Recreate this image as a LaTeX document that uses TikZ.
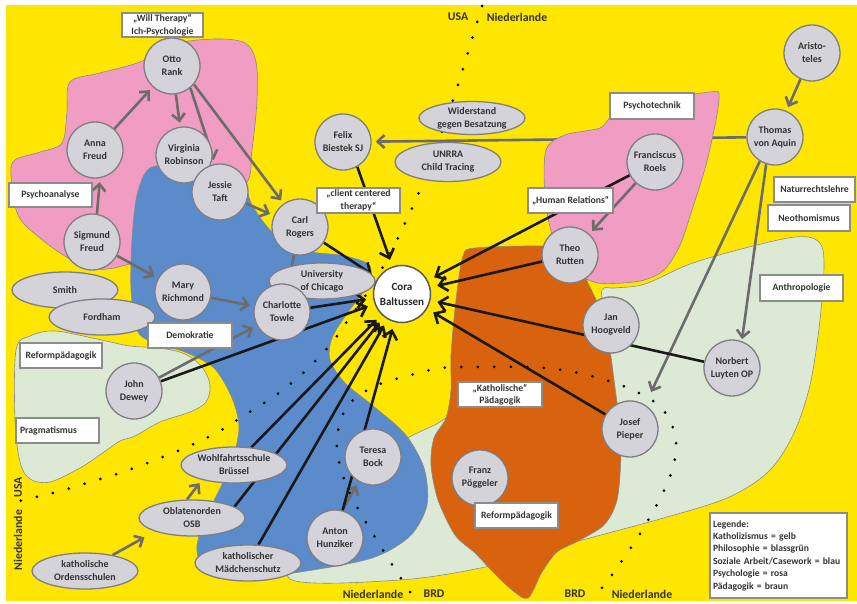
\documentclass[tikz,border=0pt]{standalone}
\usepackage{fontspec}
\setmainfont{Carlito}
\usetikzlibrary{shapes.geometric,arrows.meta}
\definecolor{bgyellow}{HTML}{FFE600}
\definecolor{rosa}{HTML}{F19CC3}
\definecolor{blau}{HTML}{5B8BCB}
\definecolor{gruen}{HTML}{DCE9D5}
\definecolor{braun}{HTML}{D8620E}
\definecolor{nodegray}{HTML}{D3D3D9}
\definecolor{rimgray}{HTML}{7E7E84}
\definecolor{boxrim}{HTML}{8C8C8C}
\definecolor{txt}{HTML}{333333}
\definecolor{arrowgray}{HTML}{6C6C6C}
\definecolor{edgegray}{HTML}{8A8A8A}
\pgfdeclarelayer{base}
\pgfdeclarelayer{regions}
\pgfdeclarelayer{links}
\pgfsetlayers{base,regions,links,main}
\tikzset{
  person/.style={circle, fill=nodegray, draw=rimgray, line width=1.3pt,
    minimum size=56pt, inner sep=0pt, align=center, text=txt,
    font=\bfseries\fontsize{10}{13}\selectfont},
  topic/.style={ellipse, fill=nodegray, draw=rimgray, line width=1.3pt,
    minimum width=106pt, minimum height=36pt, inner sep=0pt, align=center,
    text=txt, font=\bfseries\fontsize{10}{13}\selectfont},
  tag/.style={rectangle, fill=white, draw=boxrim, line width=1.2pt,
    minimum height=25pt, inner sep=1pt, align=center, text=txt,
    font=\bfseries\fontsize{9.7}{12}\selectfont},
  border label/.style={text=txt, inner sep=0pt,
    font=\bfseries\fontsize{11.8}{13}\selectfont},
  area/.style={draw=edgegray, line width=0.6pt},
  dotline/.style={draw=black, line width=3pt, line cap=round,
    dash pattern=on 0pt off 16.5pt},
  garrow/.style={draw=arrowgray, line width=2.6pt,
    -{Straight Barb[length=7pt,width=13pt]}, shorten >=4pt},
  barrow/.style={draw=black!90, line width=2.6pt,
    -{Straight Barb[length=8pt,width=15pt]}, shorten >=7pt}
}
\begin{document}
\begin{tikzpicture}[x=1pt,y=-1pt]
\useasboundingbox (0,0) rectangle (857,604);

% ---------- persons ----------
\node[person] (otto)     at (172,66)  {Otto\\Rank};
\node[person] (anna)     at (95,150)  {Anna\\Freud};
\node[person] (robinson) at (184,155) {Virginia\\Robinson};
\node[person] (taft)     at (220,192) {Jessie\\Taft};
\node[person] (rogers)   at (300,227) {Carl\\Rogers};
\node[person] (sigmund)  at (92,242)  {Sigmund\\Freud};
\node[person] (richmond) at (183,292) {Mary\\Richmond};
\node[topic]  (chicago)  at (322,281) {University\\of Chicago};
\node[person] (towle)    at (282,312) {Charlotte\\Towle};
\node[topic]  (smith)    at (65,290)  {Smith};
\node[topic]  (fordham)  at (102,317) {Fordham};
\node[person] (dewey)    at (134,391) {John\\Dewey};
\node[person] (felix)    at (343,142) {Felix\\Biestek SJ};
\node[topic, minimum height=33pt] (widerstand) at (472,118) {Widerstand\\gegen Besatzung};
\node[topic, minimum height=39pt] (unrra) at (448,162) {UNRRA\\Child Tracing};
\node[person] (roels)    at (655,162) {Franciscus\\Roels};
\node[person] (aquin)    at (775,137) {Thomas\\von Aquin};
\node[person] (aristo)   at (812,53)  {Aristo-\\teles};
\node[person] (rutten)   at (570,255) {Theo\\Rutten};
\node[person] (hoogveld) at (611,325) {Jan\\Hoogveld};
\node[person] (luyten)   at (732,368) {Norbert\\Luyten OP};
\node[person] (pieper)   at (630,429) {Josef\\Pieper};
\node[person] (poeggeler) at (480,478) {Franz\\Pöggeler};
\node[person] (bock)     at (373,457) {Teresa\\Bock};
\node[person] (hunziker) at (335,538) {Anton\\Hunziker};
\node[topic] (wohl)      at (234,465) {Wohlfahrtsschule\\Brüssel};
\node[topic] (oblaten)   at (192,518) {Oblatenorden\\OSB};
\node[topic] (orden)     at (85,571)  {katholische\\Ordensschulen};
\node[topic] (maed)      at (248,563) {katholischer\\Mädchenschutz};
\node[circle, fill=white, draw=black!65, line width=1.5pt, minimum size=57pt,
  inner sep=0pt, align=center, text=black!85,
  font=\bfseries\fontsize{11}{15}\selectfont] (cora) at (402,294) {Cora\\Baltussen};

% ---------- labels in boxes ----------
\node[tag, minimum width=81pt, minimum height=24pt, font=\bfseries\fontsize{9.7}{12.5}\selectfont]
  (will) at (162.5,25) {„Will Therapy“\\Ich-Psychologie};
\node[tag, minimum width=83pt, minimum height=24pt] (psychoanalyse) at (50.5,195) {Psychoanalyse};
\node[tag, minimum width=83pt, font=\bfseries\fontsize{9.7}{12.5}\selectfont]
  (cct) at (358.5,200.5) {„client centered\\therapy“};
\node[tag, minimum width=84pt, minimum height=26pt] (psychotechnik) at (652,106) {Psychotechnik};
\node[tag, minimum width=85pt] (human) at (570.5,200.5) {„Human Relations“};
\node[tag, minimum width=81pt] (naturrecht) at (814.5,189.5) {Naturrechtslehre};
\node[tag, minimum width=82pt, minimum height=26pt] (neothom) at (809,218) {Neothomismus};
\node[tag, minimum width=83pt, minimum height=26pt] (anthro) at (801.5,288) {Anthropologie};
\node[tag, minimum width=84pt] (demokratie) at (190,335.5) {Demokratie};
\node[tag, minimum width=82pt] (reformL) at (61,355.5) {Reformpädagogik};
\node[tag, minimum width=83pt, text width=75pt, align=left, inner xsep=4pt]
  (pragmatismus) at (57.5,430.5) {Pragmatismus};
\node[tag, minimum width=84pt, font=\bfseries\fontsize{9.7}{11.5}\selectfont]
  (kathpaed) at (500,394.5) {„Katholische“\\Pädagogik};
\node[tag, minimum width=83pt] (reformR) at (516.5,515.5) {Reformpädagogik};
\node[tag, minimum width=137pt, minimum height=85pt, text width=131pt, align=left,
  inner xsep=3pt, font=\bfseries\fontsize{9.6}{12.4}\selectfont]
  (legende) at (778.5,555.5)
  {Legende:\\Katholizismus = gelb\\Philosophie = blassgrün\\Soziale Arbeit/Casework = blau\\Psychologie = rosa\\Pädagogik = braun};

% ---------- country borders ----------
\node[border label] (usaTop) at (458,17) {USA};
\node[border label] (nlTop)  at (517,17) {Niederlande};
\node[border label] (nlBot)  at (373,594) {Niederlande};
\node[border label] (brdBot) at (434,594) {BRD};
\node[border label] (brdBot2) at (575,594) {BRD};
\node[border label] (nlBot2) at (642,594) {Niederlande};
\node[border label, rotate=90] (usaLeft) at (18,487) {USA};
\node[border label, rotate=90] (nlLeft)  at (18,540) {Niederlande};

% ---------- background and the line hidden by the pink area ----------
\begin{pgfonlayer}{base}
  \fill[bgyellow] (6,5) rectangle (857,601);
  \draw[garrow] (aquin) -- (felix);
\end{pgfonlayer}

% ---------- coloured areas ----------
\begin{pgfonlayer}{regions}
  % Philosophie (right and bottom)
  \filldraw[area, fill=gruen] plot[smooth cycle, tension=0.55] coordinates {
    (290,579) (400,580) (490,566) (560,546) (660,519) (727,498) (768,472)
    (793,435) (810,385) (820,320) (824,262) (818,241) (795,237) (745,248)
    (690,264) (645,284) (615,288) (602,290) (598,320) (540,360) (470,400)
    (440,422) (403,441) (365,475) (320,530)};
  % Philosophie (left)
  \filldraw[area, fill=gruen] plot[smooth cycle, tension=0.55] coordinates {
    (16,350) (30,336) (55,331) (97,339) (130,346) (160,348) (185,354)
    (202,367) (210,385) (206,402) (190,412) (160,422) (135,436) (120,441)
    (104,452) (80,468) (50,482) (30,479) (20,462) (15,420)};
  % Psychologie (left)
  \filldraw[area, fill=rosa] plot[smooth cycle, tension=0.55] coordinates {
    (11,175) (15,160) (40,152) (62,143) (67,112) (70,82) (100,73) (140,62)
    (175,44) (215,39) (245,43) (256,62) (257,100) (252,150) (245,185)
    (200,205) (150,215) (145,255) (122,266) (97,269) (70,259) (40,238) (18,215)};
  % Soziale Arbeit / Casework
  \filldraw[area, fill=blau] plot[smooth cycle, tension=0.5] coordinates {
    (150,168) (185,166) (222,172) (243,182) (252,205) (272,232) (300,250)
    (345,256) (370,266) (366,288) (348,312) (332,338) (330,360) (345,383)
    (372,405) (405,434) (424,468) (427,505) (410,536) (372,558) (300,572)
    (232,579) (205,572) (197,545) (212,505) (231,465) (239,428) (232,398)
    (214,368) (185,352) (152,342) (137,330) (131,290) (132,240) (137,195)};
  % Paedagogik
  \filldraw[area, fill=braun] plot[smooth cycle, tension=0.5] coordinates {
    (463,256) (475,248) (540,246) (570,250) (588,283) (600,310) (609,345)
    (614,380) (619,420) (621,455) (617,500) (604,525) (578,541) (557,552)
    (542,572) (528,598) (512,590) (493,572) (475,553) (455,535) (438,500)
    (431,465) (434,438) (446,418) (451,390) (451,355) (456,300)};
  % Psychologie (right)
  \filldraw[area, fill=rosa] plot[smooth cycle, tension=0.5] coordinates {
    (546,150) (565,135) (600,128) (614,115) (660,100) (710,92) (719,94)
    (716,120) (706,165) (692,210) (680,245) (664,270) (640,281) (598,283)
    (575,270) (553,237) (545,195)};
  % borders USA / Niederlande and Niederlande / BRD
  \draw[dotline] plot[smooth, tension=0.6] coordinates {
    (482,6) (472,39) (457,88) (440,137) (422,185) (408,217) (393,248)
    (380,272) (368,292) (348,320) (330,345) (303,373) (276,395) (248,413)
    (218,432) (187,447) (155,460) (123,472) (90,482) (57,492) (23,500) (7,505)};
  \draw[dotline] plot[smooth, tension=0.6] coordinates {
    (410,592) (391,563) (373,534) (356,505) (342,473) (337,439) (347,407)
    (373,387) (407,376) (442,368) (477,367) (527,367) (562,370) (595,377)
    (628,388) (657,404) (672,425) (676,451) (667,484) (643,529) (614,572)
    (593,599)};
\end{pgfonlayer}

% ---------- connectors ----------
\begin{pgfonlayer}{links}
  % influences
  \draw[garrow] (anna) -- (otto);
  \draw[garrow] (sigmund.80) -- (anna.-80);
  \draw[garrow] (otto) -- (robinson);
  \draw[garrow] (otto.-50) -- (taft.100);
  \draw[garrow] (otto.-40) -- (rogers.125);
  \draw[garrow] (taft) -- (rogers);
  \draw[garrow] (sigmund) -- (richmond);
  \draw[garrow] (richmond) -- (towle);
  \draw[garrow] (rogers) -- (towle);
  \draw[garrow] (dewey) -- (towle);
  \draw[garrow] (aristo) -- (aquin);
  \draw[garrow, shorten >=14pt] (aquin.-122) -- (pieper.58);
  \draw[garrow, shorten >=2pt] (aquin.-108) -- (luyten.70);
  \draw[garrow] (roels) -- (rutten);
  \draw[garrow] (hunziker.75) -- (bock.-120);
  \draw[garrow, shorten >=12pt] (orden.30) -- (oblaten.200);
  \draw[garrow] (oblaten.105) -- (wohl.-155);
  % towards Cora Baltussen
  \draw[barrow] (felix.-60) -- (cora);
  \draw[barrow] (rogers) -- (cora);
  \draw[barrow] (towle) -- (cora);
  \draw[barrow] (dewey) -- (cora);
  \draw[barrow] (wohl) -- (cora);
  \draw[barrow] (oblaten.15) -- (cora);
  \draw[barrow] (maed) -- (cora);
  \draw[barrow] (hunziker) -- (cora);
  \draw[barrow] (roels) -- (cora);
  \draw[barrow] (rutten) -- (cora);
  \draw[barrow] (luyten) -- (cora);
  \draw[barrow] (pieper) -- (cora);
\end{pgfonlayer}
\end{tikzpicture}
\end{document}
